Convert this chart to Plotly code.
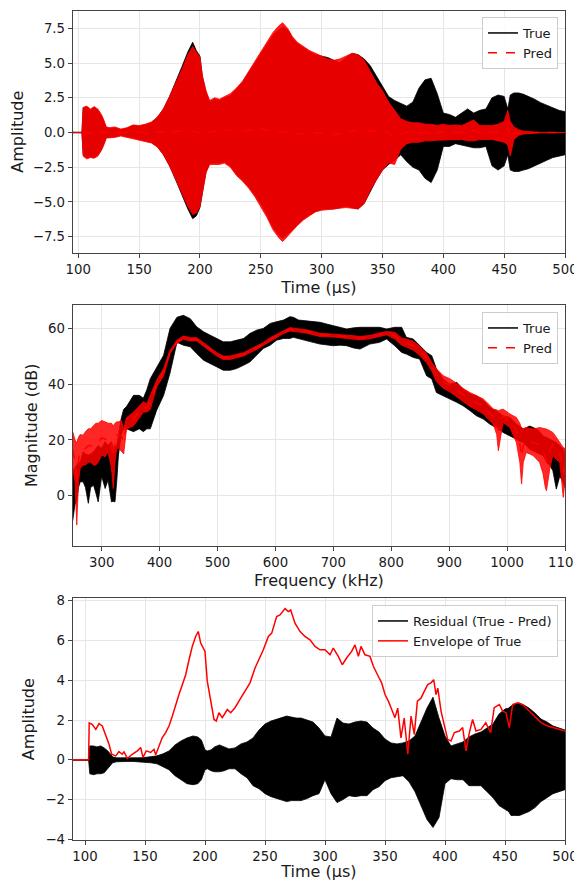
import plotly.graph_objects as go

# ---------------- data ----------------
# Time-domain knots (µs) for the oscillation bands (upper / lower extremes)
band_t = [89, 103, 104, 107, 110, 113, 116, 119, 121, 123,
          126, 130, 135, 140, 145, 150, 155, 160, 165, 170,
          175, 180, 185, 190, 194, 197, 200, 202, 205, 208,
          212, 216, 220, 225, 230, 235, 240, 245, 250, 255,
          260, 265, 268, 272, 276, 280, 285, 290, 295, 300,
          305, 310, 315, 320, 325, 330, 335, 340, 345, 350,
          355, 360, 365, 370, 375, 380, 385, 390, 395, 400,
          405, 410, 415, 420, 425, 430, 435, 440, 445, 450,
          453, 455, 458, 462, 466, 470, 475, 480, 485, 490,
          495, 500]

true_hi = [0, 0, 1.8, 1.85, 1.6, 1.85, 1.6, 1.2, 0.8, 0.35,
           0.3, 0.35, 0.2, 0.3, 0.5, 0.45, 0.55, 0.7, 1.1, 1.7,
           2.6, 3.6, 4.7, 5.8, 6.5, 5.9, 5.5, 4.0, 2.9, 2.2,
           2.4, 2.3, 2.5, 2.65, 3.1, 3.6, 4.3, 5.0, 5.7, 6.4,
           7.0, 7.4, 7.6, 7.4, 6.8, 6.4, 6.1, 5.8, 5.6, 5.5,
           5.4, 5.2, 5.0, 5.4, 5.7, 5.6, 5.3, 4.8, 4.1, 3.3,
           2.6, 2.3, 2.1, 1.9, 2.2, 3.2, 3.8, 3.9, 2.8, 1.4,
           1.3, 1.1, 1.4, 1.7, 1.4, 1.6, 1.7, 2.5, 2.7, 2.6,
           1.7, 2.7, 2.85, 2.85, 2.75, 2.6, 2.4, 2.15, 1.95, 1.75,
           1.6, 1.5]

true_lo = [0, 0, -1.6, -1.8, -1.75, -1.8, -1.6, -1.2, -0.8, -0.35,
           -0.3, -0.3, -0.2, -0.3, -0.35, -0.45, -0.6, -0.7, -1.0, -1.6,
           -2.4, -3.4, -4.4, -5.5, -6.2, -6.0, -5.4, -4.2, -2.8, -2.2,
           -2.2, -2.2, -2.1, -2.4, -3.0, -3.4, -3.9, -4.5, -5.1, -5.9,
           -6.8, -7.4, -7.6, -7.3, -7.0, -6.6, -6.2, -5.9, -5.7, -5.5,
           -5.5, -5.5, -5.4, -5.3, -5.4, -5.5, -5.1, -4.2, -3.4, -2.7,
           -2.3, -2.0, -1.6, -2.1, -2.5, -2.7, -3.3, -3.6, -2.7, -1.0,
           -1.0, -0.8, -0.9, -1.0, -1.1, -1.1, -1.0, -2.4, -2.7, -2.4,
           -1.6, -2.7, -2.8, -2.8, -2.7, -2.6, -2.4, -2.2, -2.0, -1.8,
           -1.7, -1.6]

pred_hi = [0, 0, 1.8, 1.9, 1.7, 1.85, 1.7, 1.3, 0.9, 0.4,
           0.35, 0.4, 0.25, 0.35, 0.55, 0.5, 0.6, 0.75, 1.1, 1.7,
           2.6, 3.5, 4.5, 5.6, 6.2, 5.8, 5.4, 4.1, 3.0, 2.3,
           2.5, 2.4, 2.6, 2.8, 3.2, 3.7, 4.4, 5.1, 5.8, 6.5,
           7.2, 7.7, 7.9, 7.5, 6.9, 6.5, 6.2, 5.9, 5.7, 5.5,
           5.3, 5.2, 5.3, 5.5, 5.7, 5.6, 5.2, 4.4, 3.6, 3.0,
           2.2, 1.6, 1.0, 0.8, 0.7, 0.7, 0.6, 0.6, 0.5, 0.6,
           0.5, 0.55, 0.5, 0.7, 0.9, 0.5, 0.5, 0.5, 0.6, 0.8,
           1.6, 0.8, 0.4, 0.2, 0.1, 0.05, 0.03, 0.02, 0.01, 0.01,
           0, 0]

pred_lo = [0, 0, -1.7, -1.9, -1.8, -1.85, -1.7, -1.3, -0.9, -0.4,
           -0.35, -0.35, -0.25, -0.35, -0.4, -0.5, -0.65, -0.75, -1.05, -1.6,
           -2.4, -3.3, -4.3, -5.3, -5.9, -5.8, -5.3, -4.2, -2.9, -2.3,
           -2.3, -2.3, -2.2, -2.5, -3.1, -3.5, -4.0, -4.6, -5.3, -6.1,
           -7.0, -7.6, -7.85, -7.5, -7.1, -6.7, -6.3, -6.0, -5.7, -5.6,
           -5.5, -5.5, -5.45, -5.4, -5.45, -5.5, -5.1, -4.15, -3.4, -2.7,
           -2.2, -2.3, -1.2, -0.8, -0.7, -0.7, -0.6, -0.6, -0.55, -0.5,
           -0.5, -0.5, -0.5, -0.6, -0.6, -0.5, -0.5, -0.5, -0.6, -0.7,
           -0.9, -1.7, -0.5, -0.2, -0.1, -0.05, -0.03, -0.02, -0.01, -0.01,
           0, 0]

resid_hi = [0, 0, 0.7, 0.7, 0.65, 0.7, 0.6, 0.45, 0.3, 0.15,
            0.1, 0.1, 0.08, 0.08, 0.1, 0.12, 0.15, 0.2, 0.3, 0.45,
            0.75, 0.95, 1.1, 1.2, 1.15, 1.0, 0.5, 0.45, 0.5, 0.65,
            0.75, 0.65, 0.55, 0.6, 0.8, 0.9, 1.1, 1.5, 1.8, 1.95,
            2.05, 2.15, 2.2, 2.15, 2.1, 2.1, 2.0, 1.9, 1.6, 1.2,
            1.15, 2.1, 1.85, 1.8, 1.9, 1.95, 1.9, 1.6, 1.4, 1.05,
            0.85, 0.8, 0.85, 0.95, 1.2, 1.9, 2.6, 3.15, 2.1, 1.2,
            0.7, 0.8, 0.9, 1.15, 1.3, 1.4, 1.6, 1.8, 2.3, 2.55,
            2.6, 2.7, 2.8, 2.85, 2.75, 2.6, 2.35, 2.05, 1.9, 1.7,
            1.6, 1.5]

resid_lo = [0, 0, -0.7, -0.75, -0.7, -0.7, -0.65, -0.45, -0.3, -0.15,
            -0.1, -0.1, -0.08, -0.08, -0.1, -0.12, -0.15, -0.2, -0.35, -0.5,
            -0.8, -1.0, -1.2, -1.25, -1.2, -1.0, -0.5, -0.45, -0.55, -0.6,
            -0.6, -0.55, -0.45, -0.45, -0.7, -0.9, -1.3, -1.45, -1.7, -1.85,
            -1.95, -2.05, -2.1, -2.05, -2.05, -2.05, -1.95, -1.8, -1.7, -1.0,
            -1.7, -2.15, -2.0, -1.8, -1.85, -1.8, -1.8, -1.5, -1.35, -1.05,
            -0.9, -0.85, -0.8, -1.1, -1.6, -2.3, -3.0, -3.4, -2.9, -1.2,
            -0.95, -1.0, -1.0, -1.3, -1.3, -1.3, -1.6, -1.9, -2.3, -2.5,
            -2.6, -2.8, -2.8, -2.8, -2.7, -2.6, -2.4, -2.1, -1.9, -1.7,
            -1.6, -1.5]

# Envelope of True (µs, amplitude)
env_t = [89, 103, 103.5, 106, 109, 111.7, 114.4, 117.2, 120, 122.2,
         125.6, 128.3, 131, 132.5, 135.3, 139.4, 143.6, 146.4, 148.3, 151.1,
         154.7, 157.5, 158.9, 161.7, 164.4, 167.2, 170, 172.8, 175.6, 178.3,
         181.1, 183.9, 186.7, 189.4, 192.2, 194.4, 196.4, 198.3, 200, 201.9,
         204.7, 207.5, 209.4, 211.6, 214.4, 218.6, 221.4, 225, 229, 233,
         237.5, 241.7, 244.4, 248.6, 252.8, 255.6, 259.7, 262.5, 266.7, 269.4,
         271.4, 275, 279.2, 283.3, 287.5, 291.7, 295.8, 300, 304.2, 306.9,
         311.1, 314.4, 318, 322.2, 325, 327.8, 330, 333.3, 337.5, 340.3,
         344.4, 347.2, 350, 352.8, 355.6, 358.3, 360.6, 363.3, 366, 369,
         371.7, 374.4, 377, 380, 382.8, 385.6, 388.3, 390.6, 392.5, 394,
         396.7, 399.4, 402.2, 405, 407.8, 412, 414.7, 417.5, 420.3, 423,
         425.8, 430, 434, 438, 441, 445.3, 448, 450.8, 453.6, 456.4,
         460.6, 464.7, 468.9, 474.4, 480, 485.6, 491, 496.7, 500]

env_v = [0, 0, 1.85, 1.78, 1.53, 1.82, 1.7, 1.28, 0.78, 0.28,
         0.2, 0.42, 0.28, 0.4, 0.07, 0.28, 0.45, 0.62, 0.12, 0.45,
         0.37, 0.53, 0.25, 0.7, 1.12, 1.37, 1.7, 2.2, 2.78, 3.28,
         3.78, 4.28, 5.03, 5.7, 6.2, 6.45, 5.87, 5.62, 5.45, 3.95,
         2.95, 2.03, 1.95, 2.37, 2.12, 2.53, 2.37, 2.62, 3.03, 3.45,
         3.87, 4.62, 4.95, 5.53, 6.2, 6.37, 7.2, 7.28, 7.6, 7.45,
         7.53, 6.87, 6.45, 6.2, 6.03, 5.7, 5.53, 5.53, 5.28, 5.62,
         5.2, 4.78, 5.12, 5.45, 5.78, 5.2, 5.7, 5.28, 5.2, 4.7,
         4.2, 3.87, 3.28, 2.95, 2.53, 2.12, 2.6, 1.1, 2.1, 0.28,
         2.2, 1.28, 2.95, 3.1, 3.45, 3.78, 3.87, 4.03, 3.28, 3.6,
         2.45, 1.7, 1.03, 0.95, 1.37, 1.45, 1.62, 0.45, 1.37, 2.03,
         1.45, 1.53, 1.87, 1.37, 2.62, 2.78, 2.45, 2.37, 1.62, 2.78,
         2.87, 2.78, 2.53, 2.2, 1.87, 1.7, 1.62, 1.53, 1.45]

# Spectrum knots (kHz) and magnitude extremes (dB)
freq_k = [250, 254, 257, 260, 263, 268, 272, 277, 281, 286,
          290, 294, 300, 306, 311, 317, 320, 323, 326, 329,
          334, 338, 343, 355, 365, 372, 378, 384, 395, 407,
          418, 430, 441, 453, 464, 476, 487, 499, 510, 522,
          533, 545, 556, 568, 579, 591, 602, 614, 625, 631,
          640, 654, 665, 677, 690, 700, 712, 723, 735, 746,
          763, 780, 792, 806, 818, 826, 838, 849, 861, 870,
          878, 890, 901, 913, 924, 936, 947, 959, 970, 976,
          982, 985, 993, 1005, 1016, 1022, 1025, 1028, 1033, 1039,
          1045, 1051, 1056, 1062, 1066, 1068, 1074, 1079, 1085, 1091,
          1097, 1100]

mag_true_hi = [9, 10, 11, 12, 12, 15.8, 15, 14.6, 15, 15.8,
               17, 18, 17, 19.4, 18, 19.4, 17, 17.6, 18, 21.7,
               28, 31, 32, 36, 36, 35, 38, 42, 46, 50.4,
               60, 64, 64.7, 63.5, 60.6, 58.8, 57.6, 56.4, 55.2, 55.2,
               55.8, 56.4, 58.2, 59.4, 60, 61.8, 62.4, 63, 64.2, 64,
               63, 62.8, 62.5, 62.2, 61.5, 61, 60.5, 59.8, 60.2, 60.4,
               60.4, 60.4, 59.8, 60.4, 60.4, 56.8, 56.2, 53.8, 51.4, 50.2,
               45.5, 41.9, 40, 40.7, 38.3, 36.5, 35.9, 34.1, 31.7, 31,
               30.5, 30, 28.7, 28.1, 25.7, 25, 24.5, 23.9, 24.5, 25,
               24.5, 23.9, 23, 21.5, 21, 21, 20.3, 19.7, 19.1, 18,
               16.7, 15]

mag_true_lo = [-9, -3, -2, 3, 5, 5, 3, -2.7, 3, 3.8,
               1, -2.2, 7, 2.6, 5.6, -2.2, -2, -2.2, 5, 14.6,
               22, 24, 24, 23, 24, 23, 24, 24, 30.7, 36,
               44, 55, 54, 53.4, 51, 48.6, 47.4, 46.2, 45, 45,
               45.6, 46.8, 48, 50.4, 52.8, 54, 55.8, 56.4, 56.4, 56.8,
               56.5, 55.6, 55, 54.4, 54, 53.8, 54, 53.8, 53, 52.6,
               54.4, 55, 56.2, 53.8, 51.4, 50.8, 49.6, 49, 43, 41.9,
               37, 35.9, 34.7, 33.5, 32.3, 30.5, 28.7, 27.5, 25.7, 25,
               24.5, 24, 22.7, 21.5, 20.3, 19.5, 19.3, 19.1, 18, 16.7,
               16, 15.5, 15, 14.4, 13, 12, 10.8, 9, 2.4, 7,
               4.8, 3]

mag_pred_hi = [23, 20, 19, 21, 22, 21.7, 23, 24, 24, 25,
               26, 26, 27, 26.5, 26, 26, 25, 26, 26.5, 26.5,
               27, 24, 28, 30, 32, 33.7, 33, 36, 41.5, 45.6,
               52.2, 55.8, 57.3, 56.7, 56.7, 54.9, 53.1, 51.3, 50.1, 50.1,
               50.7, 51.3, 52.5, 53.7, 54.9, 56.7, 57.9, 59.4, 60.3, 60.1,
               59.9, 59.5, 58.9, 58.3, 58.1, 58.0, 57.9, 57.7, 57.4, 57.1,
               57.5, 58.4, 58.9, 58.6, 56.6, 56.2, 55.4, 53.6, 51.0, 47.8,
               45.5, 43, 42, 40.3, 38.5, 37, 36, 34.7, 32.5, 31.1,
               30.8, 30.5, 31.1, 29.3, 28.1, 26, 23.9, 24.2, 24.5, 24.2,
               23.9, 24.2, 24.5, 24.2, 24, 23.9, 23.3, 22.7, 21, 19.1,
               17.3, 17]

mag_pred_lo = [10, 5, -10.5, 5, 9.8, 11, 11, 12, 12, 11,
               11, 12, 14.6, 14, 15.8, 10, 2.6, 12, 17, 17,
               16, 15, 24, 25, 28, 30, 30, 31, 39, 43,
               51.0, 54.6, 56.1, 55.5, 55.5, 53.7, 51.9, 50.1, 48.9, 48.9,
               49.5, 50.1, 51.3, 52.5, 53.7, 55.5, 56.7, 58.2, 59.1, 58.9,
               58.7, 58.3, 57.7, 57.1, 57.0, 56.9, 56.7, 56.5, 56.2, 55.9,
               56.3, 57.1, 57.7, 56.2, 54.0, 53.3, 52.2, 50.4, 47.7, 44.7,
               41, 38.5, 37.3, 35.5, 33.8, 32, 30.8, 29.3, 27, 25.7,
               22, 16.1, 26.3, 24.5, 19.1, 12, 4.2, 12, 15.5, 15,
               14.4, 13, 12, 8, 3, 1.8, 10, 14.4, 13, 12,
               -0.6, 5]

# ---------------- figure ----------------
# The page body has an 8 px margin, so the figure is 8 px smaller and every
# reference pixel position is shifted by OFF.
OFF = 8
W, H = 582 - OFF, 881 - OFF
BLACK = "#000000"
RED = "#ff0000"


def band(x, hi, lo, fill, line, xa, ya, width=0.8):
    xs = list(x) + list(x)[::-1]
    ys = list(hi) + list(lo)[::-1]
    return go.Scatter(x=xs, y=ys, mode="lines", fill="toself",
                      fillcolor=fill, line=dict(color=line, width=width),
                      hoverinfo="skip", showlegend=False, xaxis=xa, yaxis=ya)


def mid(hi, lo):
    return [(a + b) / 2 for a, b in zip(hi, lo)]


fig = go.Figure()

# --- panel 1: time signals ---
fig.add_trace(band(band_t, true_hi, true_lo, BLACK, BLACK, "x", "y"))
fig.add_trace(go.Scatter(x=band_t, y=mid(true_hi, true_lo), mode="lines",
                         line=dict(color=BLACK, width=1.5), name="True",
                         xaxis="x", yaxis="y", legend="legend"))
fig.add_trace(band(band_t, pred_hi, pred_lo, "rgba(255,0,0,0.9)", RED, "x", "y"))
fig.add_trace(go.Scatter(x=band_t, y=mid(pred_hi, pred_lo), mode="lines",
                         line=dict(color=RED, width=1.5, dash="dash"), name="Pred",
                         xaxis="x", yaxis="y", legend="legend"))

# --- panel 2: spectra ---
fig.add_trace(band(freq_k, mag_true_hi, mag_true_lo, BLACK, BLACK, "x2", "y2"))
fig.add_trace(go.Scatter(x=freq_k, y=mid(mag_true_hi, mag_true_lo), mode="lines",
                         line=dict(color=BLACK, width=1.5), name="True",
                         xaxis="x2", yaxis="y2", legend="legend2"))
fig.add_trace(band(freq_k, mag_pred_hi, mag_pred_lo, "rgba(255,0,0,0.85)", RED, "x2", "y2"))
fig.add_trace(go.Scatter(x=freq_k, y=mid(mag_pred_hi, mag_pred_lo), mode="lines",
                         line=dict(color=RED, width=1.5, dash="dash"), name="Pred",
                         xaxis="x2", yaxis="y2", legend="legend2"))

# --- panel 3: residual + envelope ---
fig.add_trace(band(band_t, resid_hi, resid_lo, BLACK, BLACK, "x3", "y3"))
fig.add_trace(go.Scatter(x=band_t, y=mid(resid_hi, resid_lo), mode="lines",
                         line=dict(color=BLACK, width=1.5), name="Residual (True - Pred)",
                         xaxis="x3", yaxis="y3", legend="legend3"))
fig.add_trace(go.Scatter(x=env_t, y=env_v, mode="lines",
                         line=dict(color=RED, width=1.5), name="Envelope of True",
                         xaxis="x3", yaxis="y3", legend="legend3"))

FONT = "DejaVu Sans"
TXT = "#1a1a1a"
axis_common = dict(showline=True, linecolor="#444444", linewidth=1, mirror=True,
                   ticks="outside", ticklen=4, tickwidth=1, tickcolor="#444444",
                   showgrid=True, gridcolor="#e6e6e6", gridwidth=1, zeroline=False,
                   tickfont=dict(family=FONT, size=13.3, color=TXT), automargin=False)


def xtitle(t):
    return dict(text=t, font=dict(family=FONT, size=16, color=TXT), standoff=6)


def ytitle(t):
    return dict(text=t, font=dict(family=FONT, size=16, color=TXT), standoff=6)


def px_x(v):
    return (v - OFF) / W


def px_y(v):
    return 1 - (v - OFF) / H


xdom = [px_x(72.7), px_x(565)]


def ydom(top, bottom):
    return [px_y(bottom), px_y(top)]


legend_common = dict(bgcolor="rgba(255,255,255,0.85)", bordercolor="#cccccc", borderwidth=1,
                     font=dict(family=FONT, size=13, color=TXT), xanchor="right",
                     yanchor="top", tracegroupgap=0, itemwidth=30)

fig.update_layout(
    width=W, height=H, margin=dict(l=0, r=0, t=0, b=0),
    paper_bgcolor="white", plot_bgcolor="white",
    font=dict(family=FONT, color=TXT),
    xaxis=dict(domain=xdom, anchor="y", range=[95.4, 500], tick0=0, dtick=50,
               title=xtitle("Time (μs)"), **axis_common),
    yaxis=dict(domain=ydom(10.7, 252.7), anchor="x", range=[-8.65, 8.77], tick0=0,
               dtick=2.5, tickformat=".1f", title=ytitle("Amplitude"), **axis_common),
    xaxis2=dict(domain=xdom, anchor="y2", range=[250, 1100], tick0=0, dtick=100,
                title=xtitle("Frequency (kHz)"), **axis_common),
    yaxis2=dict(domain=ydom(305, 545.7), anchor="x2", range=[-17.9, 68.4], tick0=0,
                dtick=20, title=ytitle("Magnitude (dB)"), **axis_common),
    xaxis3=dict(domain=xdom, anchor="y3", range=[89.75, 500], tick0=0, dtick=50,
                title=xtitle("Time (μs)"), **axis_common),
    yaxis3=dict(domain=ydom(598.3, 840), anchor="x3", range=[-4.03, 8.12], tick0=0,
                dtick=2, title=ytitle("Amplitude"), **axis_common),
    legend=dict(x=px_x(558), y=px_y(17), **legend_common),
    legend2=dict(x=px_x(558), y=px_y(312), **legend_common),
    legend3=dict(x=px_x(558), y=px_y(605), **legend_common),
    showlegend=True,
)

fig.write_html("out.html")
